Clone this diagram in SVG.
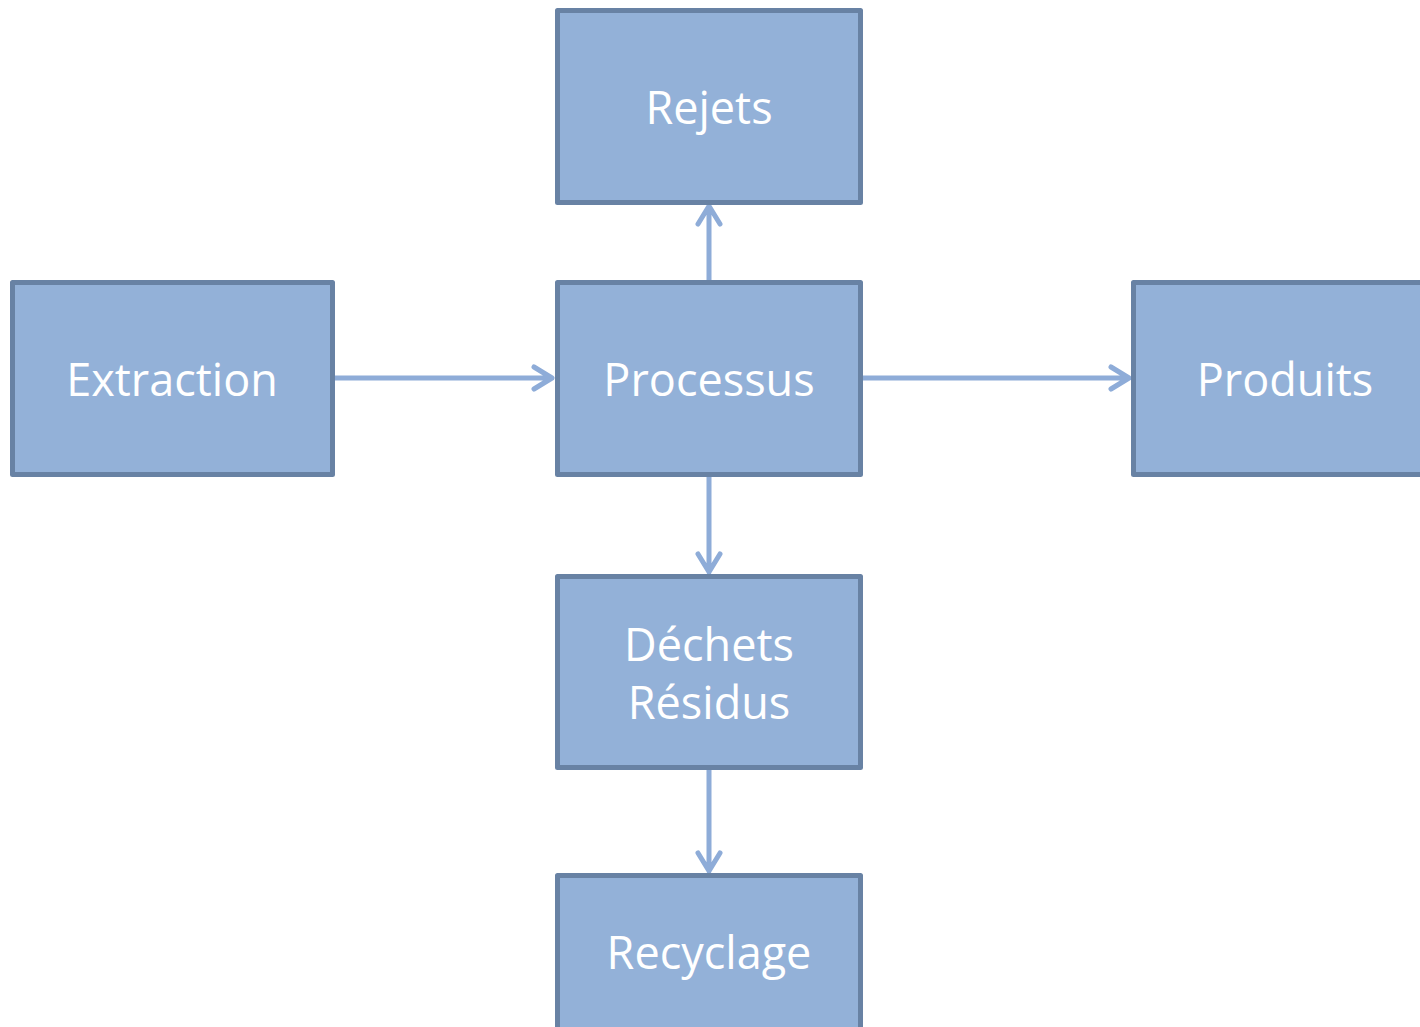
<svg xmlns="http://www.w3.org/2000/svg" width="1420" height="1027" viewBox="0 0 1420 1027">
<defs>
<style>
.box{fill:#93B1D8;stroke:#6882A4;stroke-width:5;stroke-linejoin:round}
.lbl{fill:#FFFFFF;font-family:"Open Sans","DejaVu Sans",sans-serif;font-size:45px;text-anchor:middle}
.edge{stroke:#8EACD8;stroke-width:5;fill:none;stroke-linecap:round;stroke-linejoin:round}
</style>
</defs>
<rect width="1420" height="1027" fill="#FFFFFF"/>
<g id="connectors">
<path class="edge" d="M334 378 H552 M534 367 L552 378 L534 389"/>
<path class="edge" d="M863 378 H1129 M1111 367 L1129 378 L1111 389"/>
<path class="edge" d="M709 281 V206 M698 224 L709 206 L720 224"/>
<path class="edge" d="M709 476 V572 M698 554 L709 572 L720 554"/>
<path class="edge" d="M709 769 V871 M698 853 L709 871 L720 853"/>
</g>
<g id="rejets">
<rect class="box" x="557.5" y="10.5" width="303" height="192"/>
<text class="lbl" x="709" y="124">Rejets</text>
</g>
<g id="extraction">
<rect class="box" x="12.5" y="282.5" width="320" height="192"/>
<text class="lbl" x="172" y="396">Extraction</text>
</g>
<g id="processus">
<rect class="box" x="557.5" y="282.5" width="303" height="192"/>
<text class="lbl" x="709" y="396">Processus</text>
</g>
<g id="produits">
<rect class="box" x="1133.5" y="282.5" width="300" height="192"/>
<text class="lbl" x="1285" y="396">Produits</text>
</g>
<g id="dechets">
<rect class="box" x="557.5" y="576.5" width="303" height="191"/>
<text class="lbl" x="709" y="661">Déchets</text>
<text class="lbl" x="709" y="719">Résidus</text>
</g>
<g id="recyclage">
<rect class="box" x="557.5" y="875.5" width="303" height="200"/>
<text class="lbl" x="709" y="969">Recyclage</text>
</g>
</svg>
